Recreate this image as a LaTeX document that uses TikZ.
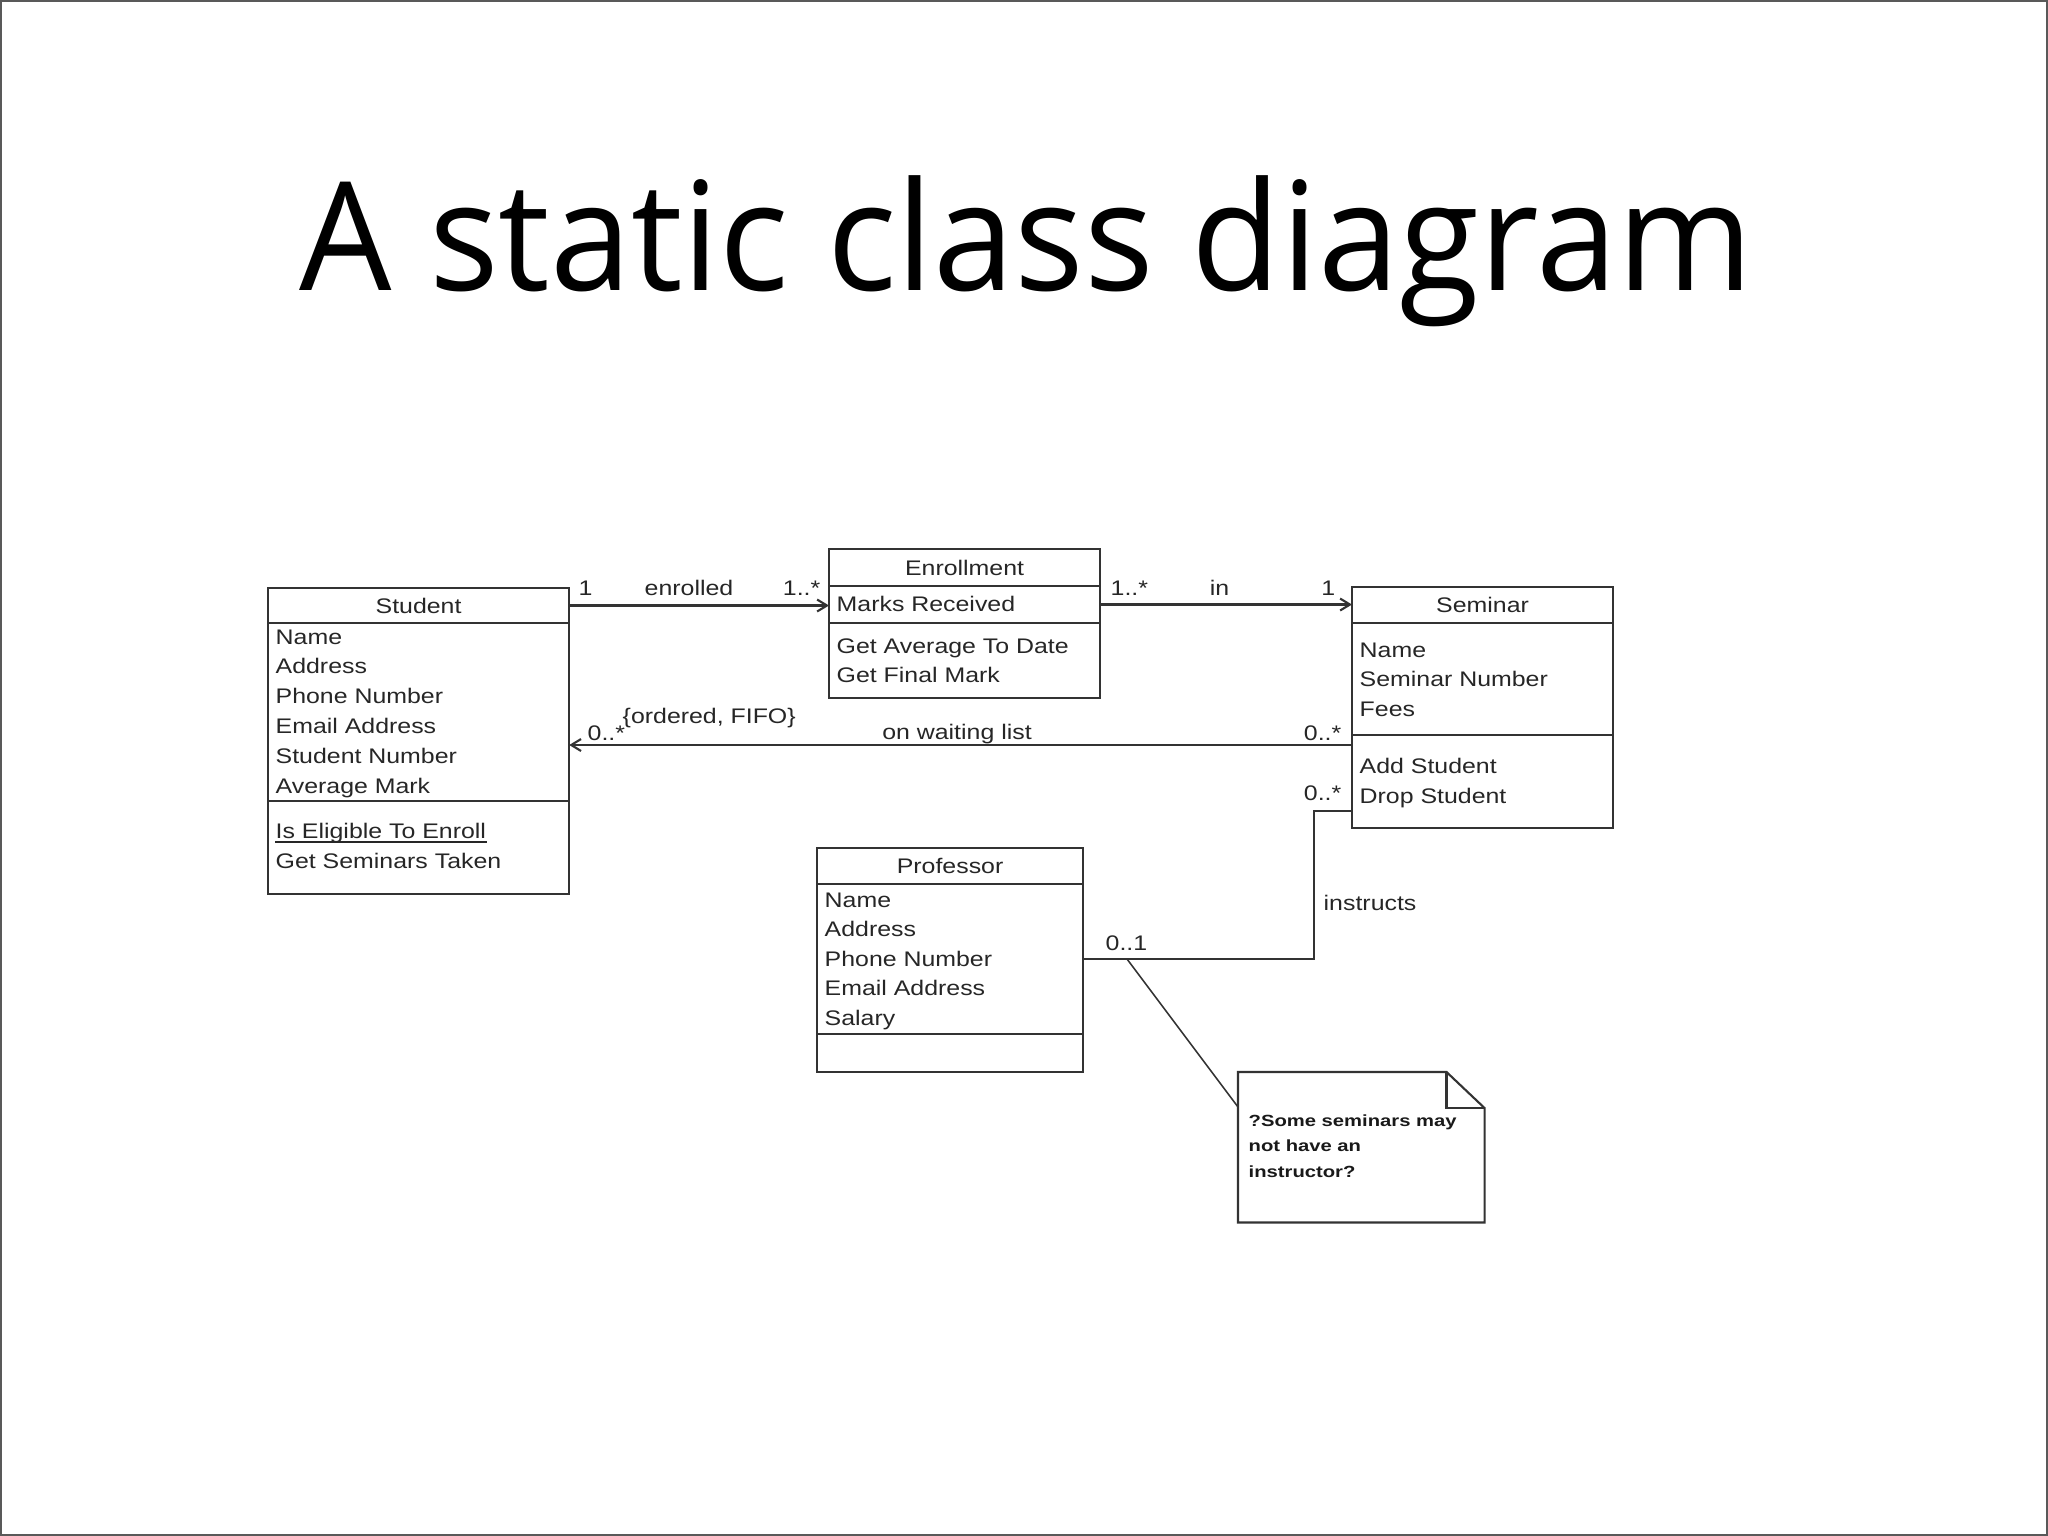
\documentclass[tikz,border=0pt]{standalone}
\usepackage{fontspec}
\usetikzlibrary{arrows.meta,positioning,calc}
\newfontfamily\umlfont[FakeStretch=1.18]{Liberation Sans}
\newfontfamily\notefont[FakeStretch=1.25]{Liberation Sans}
\newfontfamily\titlefont[FakeStretch=0.965]{Open Sans}
\newcommand{\umltext}{\umlfont\fontsize{6pt}{8.5pt}\selectfont}
\newcommand{\notetext}{\notefont\bfseries\fontsize{4.6pt}{7pt}\selectfont}
\tikzset{
  classbox/.style={draw=black!80, line width=0.6pt, inner sep=0pt, outer sep=0pt, anchor=north west, font=\umltext, text=black!85},
  member/.style={inner sep=0pt, anchor=base west, font=\umltext, text=black!85},
  assoc/.style={draw=black!80, line width=0.6pt},
}
\begin{document}
\begin{tikzpicture}[x=0.01cm, y=-0.01cm, >={Straight Barb[length=2.8pt,width=3.4pt]}]
	\useasboundingbox (0,0) rectangle (2048,1536);
	\draw[black!65, line width=0.6pt] (1,1) rectangle (2047,1535);
	\node[font=\titlefont\fontsize{43pt}{48pt}\selectfont, inner sep=0pt, anchor=base] (title) at (1026,290) {A static class diagram};

	% Student
	\node[classbox, minimum width=3.01cm, minimum height=0.35cm] (stuH) at (268,588) {Student};
	\node[classbox, minimum width=3.01cm, minimum height=1.78cm] (stuA) at (stuH.south west) {};
	\node[classbox, minimum width=3.01cm, minimum height=0.93cm] (stuO) at (stuA.south west) {};
	\foreach \t [count=\i] in {Name,Address,Phone Number,Email Address,Student Number,Average Mark}
		\node[member] (stuA\i) at ($(stuA.north west)+(7,{21+29.8*(\i-1)})$) {\t};
	\node[member] (stuO1) at ($(stuO.north west)+(7,37)$) {Is Eligible To Enroll};
	\node[member] (stuO2) at ($(stuO.north west)+(7,67)$) {Get Seminars Taken};
	\draw[black!85, line width=0.4pt] ([yshift=-1.1pt]stuO1.base west) -- ([yshift=-1.1pt]stuO1.base east);

	% Enrollment
	\node[classbox, minimum width=2.71cm, minimum height=0.37cm] (enrH) at (829,549) {Enrollment};
	\node[classbox, minimum width=2.71cm, minimum height=0.37cm] (enrA) at (enrH.south west) {};
	\node[classbox, minimum width=2.71cm, minimum height=0.75cm] (enrO) at (enrA.south west) {};
	\node[member] (enrA1) at ($(enrA.north west)+(7,25)$) {Marks Received};
	\foreach \t [count=\i] in {Get Average To Date,Get Final Mark}
		\node[member] (enrO\i) at ($(enrO.north west)+(7,{30+29.8*(\i-1)})$) {\t};

	% Seminar
	\node[classbox, minimum width=2.61cm, minimum height=0.36cm] (semH) at (1352,587) {Seminar};
	\node[classbox, minimum width=2.61cm, minimum height=1.12cm] (semA) at (semH.south west) {};
	\node[classbox, minimum width=2.61cm, minimum height=0.93cm] (semO) at (semA.south west) {};
	\foreach \t [count=\i] in {Name,Seminar Number,Fees}
		\node[member] (semA\i) at ($(semA.north west)+(7,{34+29.8*(\i-1)})$) {\t};
	\foreach \t [count=\i] in {Add Student,Drop Student}
		\node[member] (semO\i) at ($(semO.north west)+(7,{38+30.5*(\i-1)})$) {\t};

	% Professor
	\node[classbox, minimum width=2.66cm, minimum height=0.36cm] (profH) at (817,848) {Professor};
	\node[classbox, minimum width=2.66cm, minimum height=1.50cm] (profA) at (profH.south west) {};
	\node[classbox, minimum width=2.66cm, minimum height=0.38cm] (profO) at (profA.south west) {};
	\foreach \t [count=\i] in {Name,Address,Phone Number,Email Address,Salary}
		\node[member] (profA\i) at ($(profA.north west)+(7,{23+29.6*(\i-1)})$) {\t};

	% note
	\node[inner sep=0pt, minimum width=2.45cm, minimum height=1.49cm, anchor=north west] (note) at (1238,1072) {};
	\draw[assoc] (note.north west) -- ([xshift=-0.38cm]note.north east) -- ([yshift=-0.36cm]note.north east)
		-- (note.south east) -- (note.south west) -- cycle;
	\draw[assoc] ([xshift=-0.38cm]note.north east) |- ([yshift=-0.36cm]note.north east);
	\foreach \t [count=\i] in {?Some seminars may,not have an,instructor?}
		\node[inner sep=0pt, anchor=base west, font=\notetext, text=black!90] (note\i) at ($(note.north west)+(10,{54+25.5*(\i-1)})$) {\t};

	% associations
	\draw[assoc,->] (stuH.east) -- (stuH.east -| enrA.west);
	\node[member] (m1) at (578,595) {1};
	\node[member, anchor=base] (enrolled) at (689,595) {enrolled};
	\node[member, anchor=base east] (m2) at (821,595) {1..*};

	\draw[assoc,->] (enrA.east) -- (enrA.east -| semH.west);
	\node[member] (m3) at (1110,595) {1..*};
	\node[member, anchor=base] (in) at (1219.5,595) {in};
	\node[member, anchor=base east] (m4) at (1336,595) {1};

	\coordinate (wait) at (0,745);
	\draw[assoc,->] (wait -| semO.west) -- (wait -| stuA.east);
	\node[member, anchor=base east] (m5) at (1342,740) {0..*};
	\node[member, anchor=base] (waiting) at (957,739) {on waiting list};
	\node[member] (m6) at (587,740) {0..*};
	\node[member] (fifo) at (622,723) {\{ordered, FIFO\}};

	\coordinate (bend) at (1314,811);
	\draw[assoc] (bend -| semO.west) -- (bend) |- (profA.east);
	\node[member, anchor=base east] (m7) at (1342,800) {0..*};
	\node[member] (instructs) at (1323,910) {instructs};
	\node[member] (m8) at (1105,950) {0..1};

	\coordinate (tie) at (1127,959);
	\draw[assoc, line width=0.45pt] (tie) -- ($(note.north west)+(0,35)$);
\end{tikzpicture}
\end{document}
